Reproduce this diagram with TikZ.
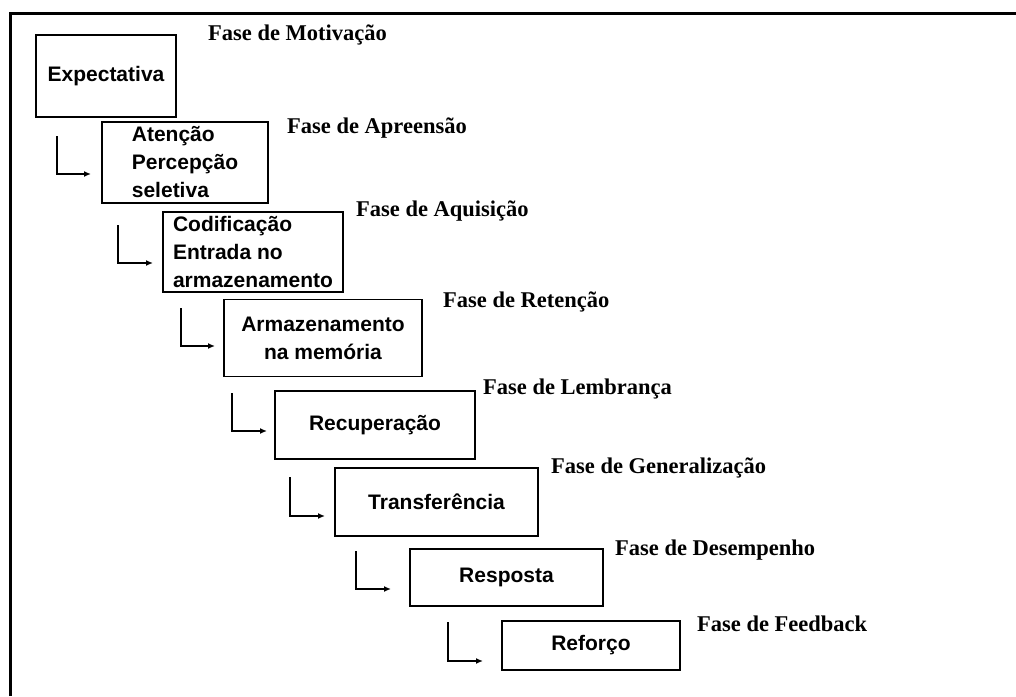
\documentclass[tikz,border=0pt]{standalone}
\usepackage{fontspec}
\setmainfont{Liberation Serif}
\setsansfont{Liberation Sans}
\usetikzlibrary{arrows.meta}
\begin{document}
\begin{tikzpicture}[x=1pt,y=-1pt,
  stage/.style={draw, line width=1.6pt, inner sep=0pt,
    font=\sffamily\bfseries\fontsize{21}{28}\selectfont},
  phase/.style={anchor=base west, inner sep=0pt,
    font=\rmfamily\bfseries\fontsize{22.5}{27}\selectfont},
  link/.style={line width=1.6pt, -{Latex[length=7pt,width=6pt]}},
  frameline/.style={line width=3pt}
]
\useasboundingbox (0,0) rectangle (1016,696);

% open frame: top and left edges only
\draw[frameline] (10.5,696) -- (10.5,13.5) -- (1016,13.5);

% stage boxes
\node[stage, minimum width=140pt, minimum height=82pt] (b1) at (106,76) {Expectativa};
\node[stage, minimum width=166pt, minimum height=81pt, align=left] (b2) at (185,162.5) {Atenção\\Percepção\\seletiva};
\node[stage, minimum width=180pt, minimum height=80pt, align=left] (b3) at (253,252) {Codificação\\Entrada no\\armazenamento};
\node[stage, minimum width=198pt, minimum height=77pt, align=center] (b4) at (323,338) {Armazenamento\\na memória};
\node[stage, minimum width=200pt, minimum height=68pt] (b5) at (375,425) {Recuperação};
\node[stage, minimum width=203pt, minimum height=68pt] (b6) at (436.5,502) {Transferência};
\node[stage, minimum width=193pt, minimum height=57pt] (b7) at (506.5,577.5) {Resposta};
\node[stage, minimum width=178pt, minimum height=49pt] (b8) at (591,645.5) {Reforço};

% phase labels
\node[phase] (p1) at (208,40) {Fase de Motivação};
\node[phase] (p2) at (287,133) {Fase de Apreensão};
\node[phase] (p3) at (356,216) {Fase de Aquisição};
\node[phase] (p4) at (443,307) {Fase de Retenção};
\node[phase] (p5) at (483,394) {Fase de Lembrança};
\node[phase] (p6) at (551,473) {Fase de Generalização};
\node[phase] (p7) at (615,555) {Fase de Desempenho};
\node[phase] (p8) at (697,631) {Fase de Feedback};

% elbow arrows leading into each stage
\coordinate (s1) at (57,136);  \coordinate (t1) at (91,174);
\coordinate (s2) at (118,225); \coordinate (t2) at (153,263);
\coordinate (s3) at (181,308); \coordinate (t3) at (215,346);
\coordinate (s4) at (232,393); \coordinate (t4) at (267,431);
\coordinate (s5) at (290,477); \coordinate (t5) at (325,516);
\coordinate (s6) at (356,551); \coordinate (t6) at (391,589);
\coordinate (s7) at (448,622); \coordinate (t7) at (483,661);
\foreach \i in {1,...,7} {
  \draw[link] (s\i) |- (t\i);
}
\end{tikzpicture}
\end{document}
